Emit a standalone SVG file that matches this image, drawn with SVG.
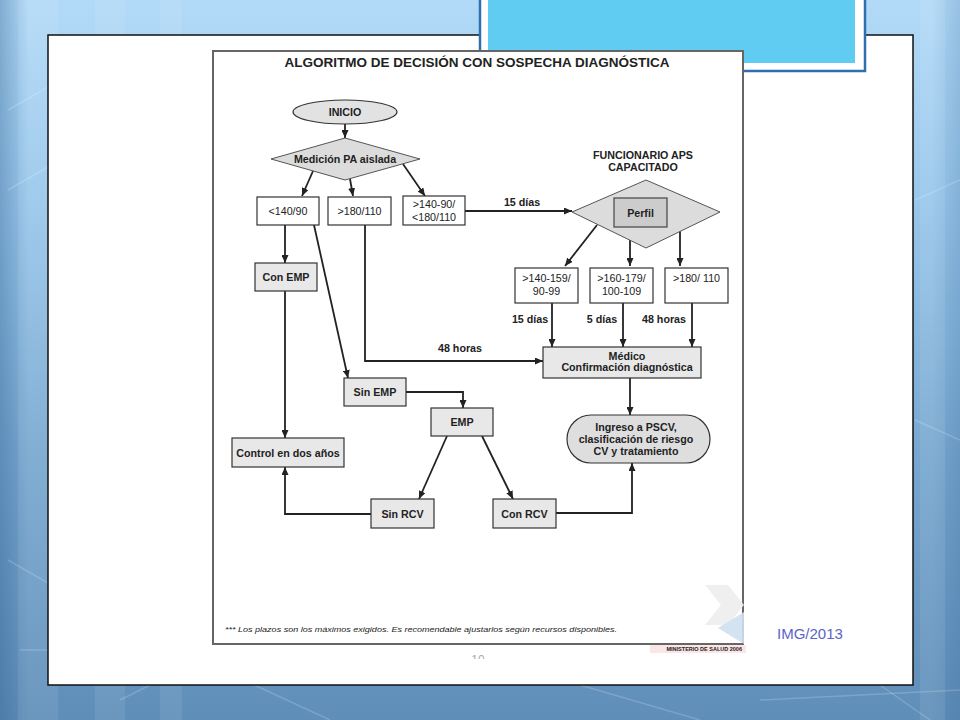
<svg xmlns="http://www.w3.org/2000/svg" width="960" height="720" viewBox="0 0 960 720">
<defs>
<linearGradient id="bg" x1="0" y1="0" x2="0" y2="1">
<stop offset="0" stop-color="#b2daf8"/>
<stop offset="0.3" stop-color="#97c5ea"/>
<stop offset="0.65" stop-color="#76a6cf"/>
<stop offset="1" stop-color="#5f8eb9"/>
</linearGradient>
<linearGradient id="side" x1="0" y1="0" x2="1" y2="0">
<stop offset="0" stop-color="#2a5a8a" stop-opacity="0.35"/>
<stop offset="0.03" stop-color="#2a5a8a" stop-opacity="0"/>
<stop offset="0.97" stop-color="#2a5a8a" stop-opacity="0"/>
<stop offset="1" stop-color="#2a5a8a" stop-opacity="0.2"/>
</linearGradient>
<marker id="ah" viewBox="0 0 8 7" refX="8" refY="3.5" markerWidth="8" markerHeight="7" markerUnits="userSpaceOnUse" orient="auto">
<path d="M0,0 L8,3.5 L0,7 z" fill="#222"/>
</marker>
<clipPath id="pgclip"><rect x="200" y="40" width="560" height="619"/></clipPath>
</defs>
<style>
.t{font-family:"Liberation Sans",Arial,sans-serif;font-size:10.7px;fill:#222;text-anchor:middle}
.b{font-weight:bold}
.box{fill:#fff;stroke:#333;stroke-width:1.2}
.gbox{fill:#e8e8e8;stroke:#333;stroke-width:1.2}
.c{stroke:#222;stroke-width:1.8;fill:none;marker-end:url(#ah)}
.ln{stroke:#fff;stroke-opacity:0.18;fill:none;stroke-width:1.5}
</style>

<!-- background -->
<rect x="0" y="0" width="960" height="720" fill="url(#bg)"/>
<rect x="0" y="0" width="960" height="720" fill="url(#side)"/>
<g fill="#fff" fill-opacity="0.08">
<rect x="18" y="0" width="40" height="720"/>
<rect x="95" y="0" width="30" height="720"/>
<rect x="160" y="0" width="22" height="720"/>
<rect x="920" y="0" width="25" height="720"/>
</g>
<g class="ln">
<path d="M8,190 L60,160 L60,80 L8,110"/>
<path d="M8,560 L60,590 L140,545"/>
<path d="M20,650 L140,650"/>
<path d="M120,700 L200,660 L330,720"/>
<path d="M580,685 L700,720"/>
<path d="M760,700 L960,690"/>
<path d="M880,685 L930,720"/>
<path d="M915,200 L960,180"/>
<path d="M915,420 L960,440"/>
</g>

<!-- white slide panel -->
<rect x="48" y="35" width="865" height="650" fill="#fff" stroke="#111" stroke-width="1.5"/>

<!-- cyan title box -->
<rect x="480" y="-4" width="385" height="75" fill="#fff" stroke="#2f6fae" stroke-width="2.5"/>
<rect x="488" y="-4" width="367" height="67" fill="#60ccf2"/>

<!-- document image -->
<rect x="213" y="51" width="530" height="593" fill="#fff" stroke="#666" stroke-width="2"/>
<g id="logo" opacity="0.9">
<path d="M705,585 L728,585 L744,605 L728,625 L705,625 L721,605 Z" fill="#eeeeee"/>
<path d="M744,612 L744,644 L718,628 Z" fill="#cfe0f0"/>
<rect x="650" y="645" width="96" height="8" fill="#fbe3e3"/>
</g>
<text x="477" y="67" class="t b" style="font-size:13.5px">ALGORITMO DE DECISIÓN CON SOSPECHA DIAGNÓSTICA</text>
<text x="225" y="632" class="t" style="font-size:8px;font-style:italic;text-anchor:start" textLength="392" lengthAdjust="spacingAndGlyphs">*** Los plazos son los máximos exigidos. Es recomendable ajustarlos según recursos disponibles.</text>
<text x="742" y="651" class="t b" style="font-size:5.5px;text-anchor:end">MINISTERIO DE SALUD 2006</text>
<g clip-path="url(#pgclip)"><text x="478" y="664" class="t" style="font-size:12px;fill:#aaa">10</text></g>

<!-- connectors -->
<g id="connectors">
<path class="c" d="M345,124 L345,138"/>
<path class="c" d="M313,171 L302,196"/>
<path class="c" d="M350,179 L353,196"/>
<path class="c" d="M403,164 L425,196"/>
<path class="c" d="M465,211 L572,211"/>
<path class="c" d="M597,225 L565,266"/>
<path class="c" d="M630,240 L630,266"/>
<path class="c" d="M680,231 L680,266"/>
<path class="c" d="M552,303 L552,347"/>
<path class="c" d="M623,303 L623,347"/>
<path class="c" d="M692,303 L692,347"/>
<path class="c" d="M365,225 L365,361 L543,361"/>
<path class="c" d="M630,378 L630,415"/>
<path class="c" d="M285,225 L285,263"/>
<path class="c" d="M285,291 L285,438"/>
<path class="c" d="M314,225 L348,378"/>
<path class="c" d="M406,392 L463,392 L463,408"/>
<path class="c" d="M447,436 L419,499"/>
<path class="c" d="M482,436 L513,499"/>
<path class="c" d="M371,514 L285,514 L285,467"/>
<path class="c" d="M556,513 L632,513 L632,463"/>
<text x="522" y="206" class="t b">15 días</text>
<text x="530" y="323" class="t b">15 días</text>
<text x="602" y="323" class="t b">5 días</text>
<text x="664" y="323" class="t b">48 horas</text>
<text x="460" y="352" class="t b">48 horas</text>
</g>

<!-- nodes -->
<g id="inicio">
<ellipse cx="345" cy="112" rx="52" ry="12" fill="#e2e2e2" stroke="#333" stroke-width="1.2"/>
<text x="345" y="116" class="t b">INICIO</text>
</g>
<g id="medicion">
<polygon points="271,159 345,138 420,159 345,180" fill="#dcdcdc" stroke="#555" stroke-width="1"/>
<text x="345" y="162.5" class="t b">Medición PA aislada</text>
</g>
<g id="b140">
<rect x="257" y="197" width="62" height="28" class="box"/>
<text x="288" y="215" class="t">&lt;140/90</text>
</g>
<g id="b180">
<rect x="328" y="197" width="63" height="28" class="box"/>
<text x="359.5" y="215" class="t">&gt;180/110</text>
</g>
<g id="b140_180">
<rect x="403" y="196" width="62" height="29" class="box"/>
<text x="434" y="207.5" class="t">&gt;140-90/</text>
<text x="434" y="220.5" class="t">&lt;180/110</text>
</g>
<g id="funcionario">
<text x="643" y="159" class="t b">FUNCIONARIO APS</text>
<text x="643" y="171" class="t b">CAPACITADO</text>
</g>
<g id="perfil">
<polygon points="572,212 646,180 720,212 646,248" fill="#dcdcdc" stroke="#555" stroke-width="1"/>
<rect x="614" y="198" width="53" height="29" fill="#cccccc" stroke="#444" stroke-width="1.2"/>
<text x="640.5" y="216.5" class="t b">Perfil</text>
</g>
<g id="p1">
<rect x="515" y="268" width="63" height="35" class="box"/>
<text x="546.5" y="282" class="t">&gt;140-159/</text>
<text x="546.5" y="294.5" class="t">90-99</text>
</g>
<g id="p2">
<rect x="590" y="268" width="63" height="35" class="box"/>
<text x="621.5" y="282" class="t">&gt;160-179/</text>
<text x="621.5" y="294.5" class="t">100-109</text>
</g>
<g id="p3">
<rect x="665" y="268" width="63" height="35" class="box"/>
<text x="696.5" y="282" class="t">&gt;180/ 110</text>
</g>
<g id="medico">
<rect x="543" y="347" width="158" height="31" class="gbox"/>
<text x="627" y="359.5" class="t b">Médico</text>
<text x="627" y="371" class="t b">Confirmación diagnóstica</text>
</g>
<g id="ingreso">
<rect x="567" y="415" width="143" height="48" rx="24" ry="24" fill="#dedede" stroke="#333" stroke-width="1.2"/>
<text x="636" y="430.5" class="t b">Ingreso a PSCV,</text>
<text x="636" y="442.5" class="t b">clasificación de riesgo</text>
<text x="636" y="454.5" class="t b">CV y tratamiento</text>
</g>
<g id="conemp">
<rect x="255" y="263" width="62" height="28" class="gbox"/>
<text x="286" y="281" class="t b">Con EMP</text>
</g>
<g id="control">
<rect x="232" y="438" width="112" height="29" class="gbox"/>
<text x="288" y="456.5" class="t b">Control en dos años</text>
</g>
<g id="sinemp">
<rect x="344" y="378" width="62" height="28" class="gbox"/>
<text x="375" y="396" class="t b">Sin EMP</text>
</g>
<g id="emp">
<rect x="431" y="408" width="62" height="28" class="gbox"/>
<text x="462" y="426" class="t b">EMP</text>
</g>
<g id="sinrcv">
<rect x="371" y="499" width="63" height="29" class="gbox"/>
<text x="402.5" y="517.5" class="t b">Sin RCV</text>
</g>
<g id="conrcv">
<rect x="493" y="499" width="63" height="29" class="gbox"/>
<text x="524.5" y="517.5" class="t b">Con RCV</text>
</g>

<text x="777" y="639" style="font-family:'Liberation Sans',Arial,sans-serif;font-size:15px;fill:#5b63c8">IMG/2013</text>
</svg>
